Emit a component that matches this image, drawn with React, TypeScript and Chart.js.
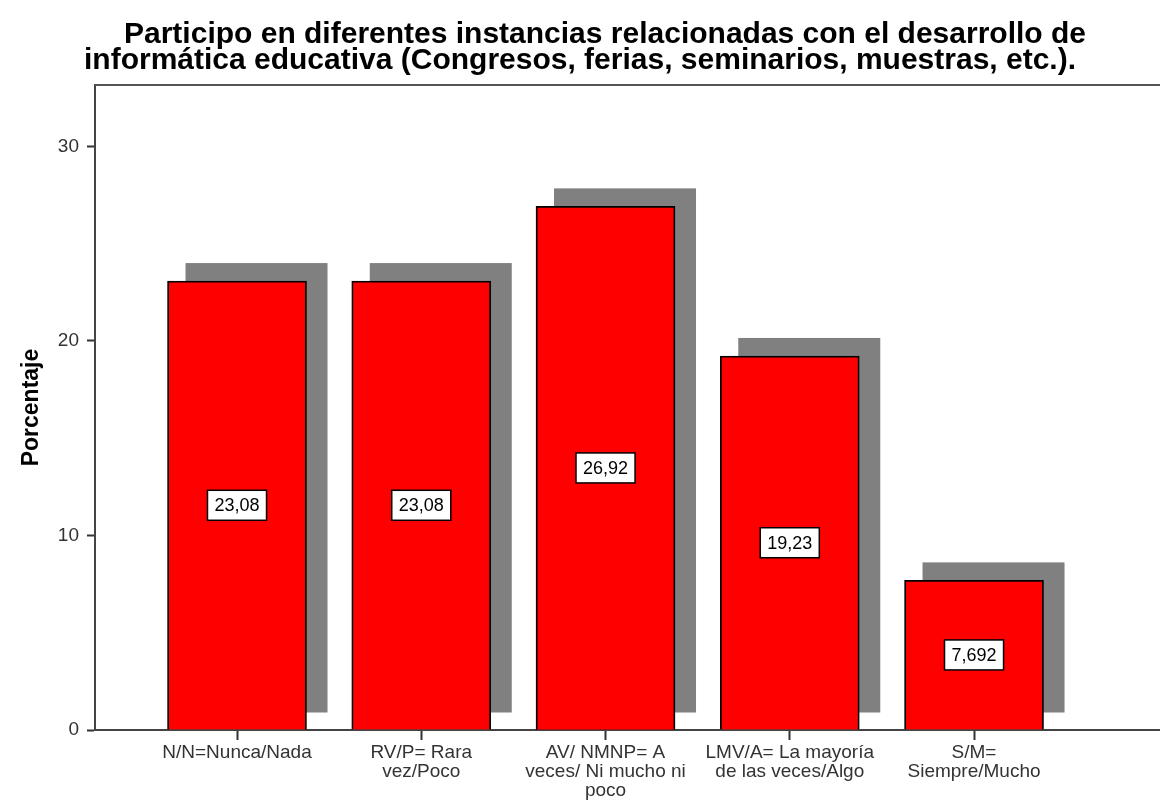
import React, { useEffect, useRef } from "react";
import { Chart, registerables } from "chart.js";

Chart.register(...registerables);

const titleLines = [
  "\u00A0\u00A0\u00A0\u00A0\u00A0\u00A0Participo en diferentes instancias relacionadas con el desarrollo de",
  "informática educativa (Congresos, ferias, seminarios, muestras, etc.).",
];
const yAxisTitle = "Porcentaje";
const categories: string[][] = [
  ["N/N=Nunca/Nada"],
  ["RV/P= Rara", "vez/Poco"],
  ["AV/ NMNP= A", "veces/ Ni mucho ni", "poco"],
  ["LMV/A= La mayoría", "de las veces/Algo"],
  ["S/M=", "Siempre/Mucho"],
];
const percentages = [23.08, 23.08, 26.92, 19.23, 7.692];
const yTicks = [0, 10, 20, 30];

const FONT = "'Liberation Sans', Arial, Helvetica, sans-serif";

const shadowPlugin = {
  id: "barShadow",
  beforeDatasetsDraw(chart: any) {
    const ctx = chart.ctx;
    const meta = chart.getDatasetMeta(0);
    ctx.save();
    ctx.fillStyle = "#808080";
    meta.data.forEach((bar: any) => {
      const p = bar.getProps(["x", "y", "base", "width"], true);
      const left = p.x - p.width / 2 + 18;
      const right = p.x + p.width / 2 + 21;
      const top = p.y - 18;
      const bottom = p.base - 17;
      ctx.fillRect(left, top, right - left, bottom - top);
    });
    ctx.restore();
  },
};

const labelPlugin = {
  id: "valueLabels",
  afterDatasetsDraw(chart: any) {
    const ctx = chart.ctx;
    const meta = chart.getDatasetMeta(0);
    const data = chart.data.datasets[0].data as any[];
    ctx.save();
    ctx.font = `18px ${FONT}`;
    ctx.textAlign = "center";
    ctx.textBaseline = "middle";
    meta.data.forEach((bar: any, i: number) => {
      const p = bar.getProps(["x", "y", "base"], true);
      const text = String(data[i].y).replace(".", ",");
      const w = ctx.measureText(text).width + 14;
      const h = 30;
      const cy = (p.y + p.base) / 2;
      ctx.fillStyle = "#ffffff";
      ctx.fillRect(p.x - w / 2, cy - h / 2, w, h);
      ctx.lineWidth = 1.5;
      ctx.strokeStyle = "#000000";
      ctx.strokeRect(p.x - w / 2, cy - h / 2, w, h);
      ctx.fillStyle = "#000000";
      ctx.fillText(text, p.x, cy + 1);
    });
    ctx.restore();
  },
};

const framePlugin = {
  id: "topFrame",
  afterDraw(chart: any) {
    const { ctx, chartArea } = chart;
    ctx.save();
    ctx.strokeStyle = "#555555";
    ctx.lineWidth = 2;
    ctx.beginPath();
    ctx.moveTo(chartArea.left, chartArea.top);
    ctx.lineTo(chartArea.right, chartArea.top);
    ctx.stroke();
    ctx.restore();
  },
};

export default function App() {
  const ref = useRef<HTMLCanvasElement | null>(null);

  useEffect(() => {
    if (!ref.current) return;
    const chart = new Chart(ref.current, {
      type: "bar",
      data: {
        datasets: [
          {
            data: percentages.map((v, i) => ({ x: i + 1, y: v })),
            backgroundColor: "#ff0000",
            borderColor: "#000000",
            borderWidth: 1.8,
            barThickness: 139,
          },
        ],
      },
      options: {
        animation: false,
        responsive: false,
        maintainAspectRatio: false,
        layout: { padding: 0 },
        plugins: {
          legend: { display: false },
          tooltip: { enabled: false },
          title: {
            display: true,
            text: titleLines,
            color: "#000000",
            font: { family: FONT, size: 30, weight: "bold", lineHeight: 0.8667 },
            padding: { top: 22, bottom: 11 },
          },
        },
        scales: {
          x: {
            type: "linear",
            offset: false,
            min: 0.2293,
            max: 6.0093,
            afterBuildTicks(scale: any) {
              scale.ticks = categories.map((_, i) => ({ value: i + 1 }));
            },
            afterFit(scale: any) {
              scale.height = 72;
            },
            ticks: {
              autoSkip: false,
              maxRotation: 0,
              minRotation: 0,
              padding: 3,
              color: "#333333",
              font: { family: FONT, size: 19, lineHeight: 1.0 },
              callback: (value: any) => categories[Number(value) - 1] ?? "",
            },
            grid: {
              display: true,
              offset: false,
              drawOnChartArea: false,
              drawTicks: true,
              tickLength: 10,
              tickColor: "#333333",
              tickWidth: 2,
            },
            border: { display: true, color: "#444444", width: 2 },
          },
          y: {
            min: 0,
            max: 33.16,
            afterBuildTicks(scale: any) {
              scale.ticks = yTicks.map((v) => ({ value: v }));
            },
            afterFit(scale: any) {
              scale.width = 95;
            },
            ticks: {
              stepSize: 10,
              includeBounds: false,
              padding: 8,
              color: "#333333",
              font: { family: FONT, size: 19 },
            },
            grid: {
              display: true,
              drawOnChartArea: false,
              drawTicks: true,
              tickLength: 8,
              tickColor: "#333333",
              tickWidth: 2,
            },
            border: { display: true, color: "#444444", width: 2 },
            title: {
              display: true,
              text: yAxisTitle,
              color: "#000000",
              font: { family: FONT, size: 23, weight: "bold" },
              padding: { top: 18, bottom: 0 },
            },
          },
        },
      },
      plugins: [shadowPlugin, labelPlugin, framePlugin],
    });
    return () => chart.destroy();
  }, []);

  return (
    <div style={{ position: "absolute", left: 0, top: 0, width: 1160, height: 802, background: "#ffffff" }}>
      <canvas ref={ref} width={1160} height={802} style={{ display: "block" }} />
    </div>
  );
}
